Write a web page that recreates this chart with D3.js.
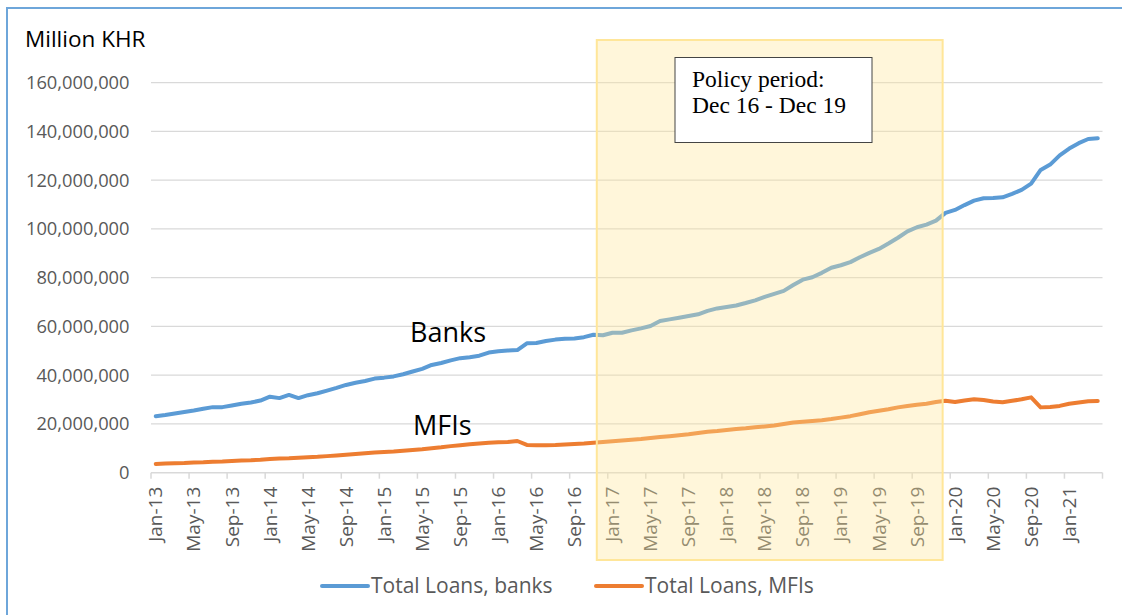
<!DOCTYPE html>
<html>
<head>
<meta charset="utf-8">
<script src="https://cdn.jsdelivr.net/npm/d3@7"></script>
<style>
  html, body { margin: 0; padding: 0; background: #fff; }
  svg { display: block; }
</style>
</head>
<body>
<svg id="chart" width="1122" height="615"></svg>
<script>
// Monthly loan stock, Jan-2013 .. Apr-2021 (Million KHR)
const startMonth = "2013-01";
const monthCount = 100;

const banksLoans = [
  23200000, 23700000, 24300000, 24900000, 25500000, 26200000, 26900000, 26900000, 27600000, 28300000,
  28800000, 29600000, 31200000, 30600000, 31900000, 30600000, 31800000, 32600000, 33700000, 34800000,
  36000000, 36900000, 37600000, 38600000, 39000000, 39500000, 40400000, 41500000, 42600000, 44200000,
  45000000, 46100000, 47000000, 47400000, 48000000, 49300000, 49800000, 50100000, 50300000, 53100000,
  53200000, 54000000, 54600000, 55000000, 55100000, 55600000, 56600000, 56400000, 57400000, 57400000,
  58400000, 59200000, 60200000, 62200000, 62900000, 63600000, 64300000, 65000000, 66400000, 67400000,
  68000000, 68600000, 69600000, 70700000, 72100000, 73400000, 74600000, 77000000, 79200000, 80200000,
  82000000, 84100000, 85100000, 86400000, 88400000, 90200000, 91800000, 94000000, 96400000, 99000000,
  100700000, 101800000, 103400000, 106600000, 107800000, 109800000, 111600000, 112600000, 112700000, 113000000,
  114400000, 116000000, 118600000, 124200000, 126400000, 130200000, 133000000, 135200000, 136900000, 137200000
];

const mfiLoans = [
  3600000, 3800000, 3900000, 4000000, 4200000, 4300000, 4500000, 4600000, 4800000, 5000000,
  5100000, 5300000, 5600000, 5800000, 5900000, 6100000, 6300000, 6500000, 6800000, 7100000,
  7400000, 7700000, 8000000, 8300000, 8500000, 8700000, 9000000, 9300000, 9600000, 10000000,
  10400000, 10900000, 11300000, 11700000, 12000000, 12300000, 12500000, 12600000, 13000000, 11400000,
  11300000, 11300000, 11400000, 11600000, 11800000, 12000000, 12300000, 12600000, 12900000, 13200000,
  13500000, 13800000, 14200000, 14600000, 15000000, 15400000, 15800000, 16300000, 16800000, 17100000,
  17500000, 17900000, 18200000, 18600000, 19000000, 19400000, 20000000, 20600000, 20900000, 21200000,
  21500000, 22000000, 22600000, 23200000, 24000000, 24800000, 25400000, 26000000, 26800000, 27400000,
  27900000, 28300000, 29000000, 29500000, 29000000, 29600000, 30100000, 29800000, 29200000, 28900000,
  29500000, 30100000, 30900000, 26800000, 27000000, 27400000, 28300000, 28800000, 29300000, 29400000
];

const yTicks = [0, 20000000, 40000000, 60000000, 80000000, 100000000, 120000000, 140000000, 160000000];
const tickEvery = 4;
const seriesNames = ["Total Loans, banks", "Total Loans, MFIs"];
const seriesColors = ["#5b9bd5", "#ed7d31"];
const seriesTags = ["Banks", "MFIs"];
const policyPeriod = ["Dec-16", "Dec-19"];
const policyText = ["Policy period:", "Dec 16 - Dec 19"];
const unitLabel = "Million KHR";

// Category labels
const fmtMonth = d3.utcFormat("%b-%y");
const t0 = d3.utcParse("%Y-%m")(startMonth);
const months = d3.range(monthCount).map(i => fmtMonth(d3.utcMonth.offset(t0, i)));

const svg = d3.select("#chart");
const W = 1122, H = 615;
const plot = { left: 151, right: 1102.5, top: 82.7, bottom: 472.7 };
const uiFont = "'Open Sans', 'DejaVu Sans', sans-serif";

// Outer frame
svg.append("rect")
  .attr("x", 7).attr("y", 8)
  .attr("width", W + 20).attr("height", H + 20)
  .attr("fill", "#fff")
  .attr("stroke", "#6ea6da").attr("stroke-width", 2);

const x = d3.scaleBand().domain(months).range([plot.left, plot.right]).padding(0);
const y = d3.scaleLinear().domain([0, 160000000]).range([plot.bottom, plot.top]);
const xc = m => x(m) + x.bandwidth() / 2;

// Gridlines
svg.append("g")
  .selectAll("line").data(yTicks.filter(d => d > 0)).join("line")
  .attr("x1", plot.left).attr("x2", plot.right)
  .attr("y1", d => y(d)).attr("y2", d => y(d))
  .attr("stroke", "#d9d9d9").attr("stroke-width", 1.2);

// Y axis labels
const yAxis = d3.axisLeft(y).tickValues(yTicks).tickFormat(d3.format(",")).tickSize(0).tickPadding(0);
const gy = svg.append("g").attr("transform", `translate(${129.5},0)`).call(yAxis);
gy.select(".domain").remove();
gy.selectAll("text")
  .attr("font-family", uiFont).attr("font-size", 18.3).attr("fill", "#595959");

// X axis: ticks at category boundaries every 4 months, labels at category centres
const labelMonths = months.filter((m, i) => i % tickEvery === 0);
const xAxis = d3.axisBottom(x).tickValues(labelMonths).tickSize(0).tickPadding(0);
const gx = svg.append("g").attr("transform", `translate(0,${plot.bottom})`).call(xAxis);
gx.select(".domain").attr("stroke", "#d9d9d9").attr("stroke-width", 1.5)
  .attr("d", `M${plot.left},0H${plot.right}`);
gx.selectAll(".tick line").remove();
gx.selectAll("text")
  .attr("font-family", uiFont).attr("font-size", 19).attr("fill", "#595959")
  .attr("text-anchor", "end")
  .attr("transform", "translate(0,14) rotate(-90)")
  .attr("x", 0).attr("y", 0).attr("dy", "0.35em");

const tickPos = labelMonths.map(m => x(m)).concat([plot.right]);
gx.append("g").selectAll("line").data(tickPos).join("line")
  .attr("x1", d => d).attr("x2", d => d).attr("y1", 0).attr("y2", 6)
  .attr("stroke", "#d9d9d9").attr("stroke-width", 1.5);

// Series lines
const series = [banksLoans, mfiLoans];
const line = d3.line().x((d, i) => xc(months[i])).y(d => y(d)).curve(d3.curveLinear);
svg.append("g").selectAll("path").data(series).join("path")
  .attr("d", d => line(d))
  .attr("fill", "none")
  .attr("stroke", (d, i) => seriesColors[i])
  .attr("stroke-width", 4)
  .attr("stroke-linejoin", "round").attr("stroke-linecap", "round");

// Series tags
const tagPos = [{ x: 410, y: 342 }, { x: 413, y: 435 }];
svg.append("g").selectAll("text").data(seriesTags).join("text")
  .attr("x", (d, i) => tagPos[i].x).attr("y", (d, i) => tagPos[i].y)
  .attr("font-family", uiFont).attr("font-size", 27).attr("fill", "#000")
  .text(d => d);

// Unit label
svg.append("text")
  .attr("x", 25).attr("y", 47)
  .attr("font-family", uiFont).attr("font-size", 22.5).attr("fill", "#000")
  .text(unitLabel);

// Policy period shading
const bw = x.bandwidth();
const px0 = x(policyPeriod[0]) - 0.15 * bw;
const px1 = x(policyPeriod[1]) + 0.2 * bw;
svg.append("rect")
  .attr("x", px0).attr("y", 40)
  .attr("width", px1 - px0).attr("height", 520)
  .attr("fill", "rgb(255,230,153)").attr("fill-opacity", 0.36)
  .attr("stroke", "#ffe699").attr("stroke-width", 2);

// Policy text box
const box = svg.append("g").attr("transform", "translate(675,57.5)");
box.append("rect")
  .attr("width", 197).attr("height", 85)
  .attr("fill", "#fff").attr("stroke", "#444").attr("stroke-width", 1);
box.selectAll("text").data(policyText).join("text")
  .attr("x", 17).attr("y", (d, i) => 29 + i * 26)
  .attr("font-family", "'Liberation Serif', 'Times New Roman', serif")
  .attr("font-size", 23.5).attr("fill", "#000")
  .text(d => d);

// Legend
const legendItems = [{ x0: 322, tx: 371 }, { x0: 596, tx: 645 }];
const lg = svg.append("g").attr("transform", "translate(0,586)");
legendItems.forEach((it, i) => {
  lg.append("line")
    .attr("x1", it.x0).attr("x2", it.x0 + 46).attr("y1", 0).attr("y2", 0)
    .attr("stroke", seriesColors[i]).attr("stroke-width", 4).attr("stroke-linecap", "round");
  lg.append("text")
    .attr("x", it.tx).attr("y", 0).attr("dy", "0.35em")
    .attr("font-family", uiFont).attr("font-size", 21).attr("fill", "#595959")
    .text(seriesNames[i]);
});
</script>
</body>
</html>
